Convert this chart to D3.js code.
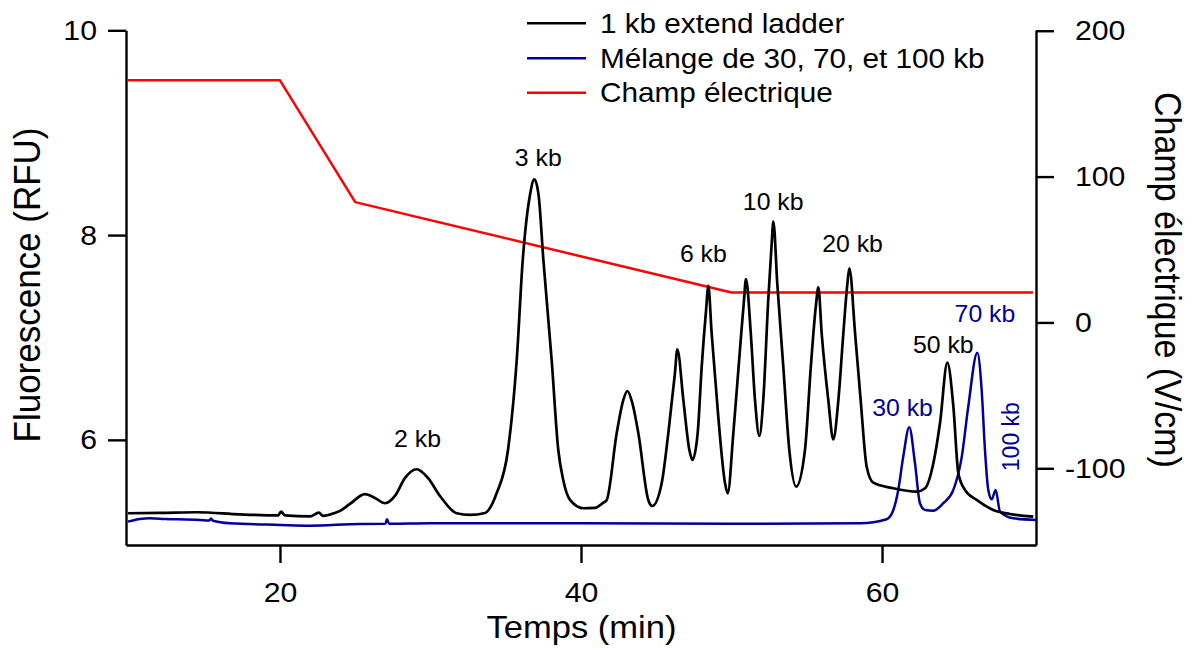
<!DOCTYPE html>
<html>
<head>
<meta charset="utf-8">
<script src="https://cdn.jsdelivr.net/npm/d3@7"></script>
<style>
  html, body { margin: 0; padding: 0; background: #fff; }
  svg { display: block; }
  text { font-family: "Liberation Sans", Arial, sans-serif; }
</style>
</head>
<body>
<svg id="chart" width="1192" height="651"></svg>
<script>
// ---------------- DATA ----------------
const ladderTime = [9.90,12.03,14.49,17.34,19.87,20.07,20.33,21.99,22.59,22.86,23.65,23.99,24.65,25.65,26.31,26.98,27.64,28.31,29.08,29.83,30.63,31.74,32.62,33.62,
  34.40,35.15,35.73,36.13,36.61,36.90,37.18,37.50,38.05,38.49,38.82,39.27,40.15,40.93,41.46,
  41.71,42.37,42.81,43.08,43.39,43.81,44.47,44.74,
  45.36,45.80,46.24,46.40,46.80,47.20,47.40,
  47.75,48.02,48.31,48.46,48.68,49.12,49.57,49.75,
  50.12,50.56,50.83,50.96,51.28,51.56,51.85,
  52.11,52.44,52.67,52.78,53.04,53.44,53.84,54.29,
  54.88,55.27,55.60,55.77,55.99,56.43,56.76,
  57.10,57.43,57.70,57.83,58.21,58.58,58.98,59.42,60.75,62.31,62.86,63.41,63.85,64.34,64.74,65.07,65.51,66.29,67.39,68.50,70.05];
const ladderRFU = [5.283,5.286,5.293,5.272,5.262,5.299,5.262,5.252,5.289,5.257,5.286,5.306,5.374,5.469,5.433,5.381,5.452,5.628,5.713,5.628,5.452,5.283,5.267,5.286,
  5.481,5.901,6.780,7.757,8.392,8.545,8.392,7.757,6.780,5.901,5.608,5.413,5.332,5.335,5.384,
  5.413,6.064,6.389,6.477,6.370,6.064,5.413,5.354,
  5.576,6.064,6.650,6.885,6.389,5.901,5.803,
  6.064,6.715,7.268,7.503,7.041,6.226,5.576,5.478,
  6.064,6.878,7.366,7.571,7.041,6.389,6.038,
  6.389,7.366,7.920,8.131,7.529,6.715,5.901,5.543,
  5.901,6.715,7.301,7.490,7.041,6.389,6.005,
  6.389,7.041,7.529,7.676,7.041,6.389,5.738,5.582,5.527,5.494,5.527,5.771,6.162,6.754,6.324,5.674,5.511,5.413,5.315,5.276,5.250];

const mixTime = [9.90,10.70,11.36,12.36,14.68,15.30,15.42,15.55,16.68,20.00,21.99,25.32,27.00,27.11,27.25,30.00,40.00,50.00,58.54,60.31,60.75,61.08,61.41,61.81,62.19,62.52,62.86,63.41,64.07,64.74,65.30,65.73,66.33,66.62,66.84,67.06,67.29,67.55,67.84,68.72,70.23];
const mixRFU  = [5.201,5.228,5.234,5.228,5.218,5.212,5.232,5.210,5.185,5.169,5.162,5.179,5.180,5.225,5.180,5.185,5.185,5.180,5.185,5.225,5.315,5.511,5.836,6.123,5.771,5.381,5.315,5.308,5.381,5.511,5.836,6.324,6.851,6.487,5.901,5.511,5.420,5.511,5.299,5.234,5.218];

const fieldTime   = [9.90, 20, 25, 50, 70.03];
const fieldValues = [166, 166, 82.5, 20.5, 20.5];

const xTicks      = [20, 40, 60];
const leftTicks   = [6, 8, 10];
const rightTicks  = [-100, 0, 100, 200];

const seriesNames = ["1 kb extend ladder", "Mélange de 30, 70, et 100 kb", "Champ électrique"];

const ladderLabels = ["2 kb", "3 kb", "6 kb", "10 kb", "20 kb", "50 kb"];
const ladderLabelT = [29.14, 37.16, 48.13, 52.77, 58.04, 64.07];
const ladderLabelV = [5.933, 8.675, 7.74, 8.245, 7.838, 6.845];
const mixLabels = ["30 kb", "70 kb"];
const mixLabelT = [61.36, 66.84];
const mixLabelV = [6.233, 7.154];
const mixVertLabel = "100 kb";
const mixVertT = 69.11, mixVertV = 6.031;

// ---------------- DRAW ----------------
const BLACK = "#000000", BLUE = "#000099", RED = "#ff0000";
const SX = 1.08; // horizontal glyph stretch seen in the reference
const svg = d3.select("#chart");

const x  = d3.scaleLinear().domain([9.77, 70.23]).range([126, 1036]);
const yL = d3.scaleLinear().domain([4.973, 10]).range([545, 30.3]);
const yR = d3.scaleLinear().domain([-152.6, 200.3]).range([545, 30.3]);

function stretchText(sel) {
  sel.each(function() {
    const t = d3.select(this);
    const tx = +t.attr("x") || 0, ty = +t.attr("y") || 0;
    t.attr("x", 0).attr("y", 0).attr("transform", `translate(${tx},${ty}) scale(${SX},1)`);
  });
}
const fmt = d => String(d); // plain hyphen-minus as in the reference

// axes
const axB = svg.append("g").attr("transform", "translate(0,545)")
  .call(d3.axisBottom(x).tickValues(xTicks).tickSize(18).tickSizeOuter(0).tickPadding(18.8).tickFormat(fmt));
const axL = svg.append("g").attr("transform", "translate(126,0)")
  .call(d3.axisLeft(yL).tickValues(leftTicks).tickSize(18).tickSizeOuter(0).tickPadding(11).tickFormat(fmt));
const axR = svg.append("g").attr("transform", "translate(1036,0)")
  .call(d3.axisRight(yR).tickValues(rightTicks).tickSize(18).tickSizeOuter(0).tickPadding(21).tickFormat(fmt));

[axB, axL, axR].forEach(a => {
  a.select(".domain").attr("stroke", BLACK).attr("stroke-width", 2.4);
  a.selectAll(".tick line").attr("stroke", BLACK).attr("stroke-width", 2.4);
  a.selectAll(".tick text").attr("fill", BLACK).attr("font-size", 28)
    .attr("font-family", '"Liberation Sans", Arial, sans-serif');
});
axR.selectAll(".tick text").attr("x", d => d < 0 ? 29 : 39);
[axB, axL, axR].forEach(a => stretchText(a.selectAll(".tick text")));

// lines
const lineL = d3.line().x(d => x(d[0])).y(d => yL(d[1])).curve(d3.curveMonotoneX);
const lineR = d3.line().x(d => x(d[0])).y(d => yR(d[1]));

svg.append("path").datum(d3.zip(fieldTime, fieldValues))
  .attr("d", lineR).attr("fill", "none").attr("stroke", RED).attr("stroke-width", 2.5).attr("stroke-linejoin", "round");
svg.append("path").datum(d3.zip(mixTime, mixRFU))
  .attr("d", lineL).attr("fill", "none").attr("stroke", BLUE).attr("stroke-width", 2.5).attr("stroke-linejoin", "round");
svg.append("path").datum(d3.zip(ladderTime, ladderRFU))
  .attr("d", lineL).attr("fill", "none").attr("stroke", BLACK).attr("stroke-width", 2.7).attr("stroke-linejoin", "round");

// peak labels
function label(txt, px, py, color, size) {
  svg.append("text").attr("transform", `translate(${px},${py}) scale(${SX},1)`)
    .attr("text-anchor", "middle").attr("font-size", size).attr("fill", color).text(txt);
}
ladderLabels.forEach((s, i) => label(s, x(ladderLabelT[i]), yL(ladderLabelV[i]), BLACK, 23));
mixLabels.forEach((s, i) => label(s, x(mixLabelT[i]), yL(mixLabelV[i]), BLUE, 23));
svg.append("text")
  .attr("transform", `translate(${x(mixVertT)},${yL(mixVertV)}) scale(${SX},1) rotate(-90)`)
  .attr("text-anchor", "middle").attr("font-size", 23).attr("fill", BLUE).text(mixVertLabel);

// axis titles
svg.append("text").attr("transform", `translate(581.5,638.3) scale(${SX},1)`)
  .attr("text-anchor", "middle").attr("font-size", 32).attr("fill", BLACK).text("Temps (min)");
svg.append("text").attr("transform", `translate(40,285) scale(${SX},1) rotate(-90)`)
  .attr("text-anchor", "middle").attr("font-size", 35).attr("fill", BLACK).text("Fluorescence (RFU)");
svg.append("text").attr("transform", `translate(1155,280) scale(${SX},1) rotate(90)`)
  .attr("text-anchor", "middle").attr("font-size", 34).attr("fill", BLACK).text("Champ électrique (V/cm)");

// legend
const legColors = [BLACK, BLUE, RED];
const legY = [23.3, 58.3, 92.8];
seriesNames.forEach((s, i) => {
  svg.append("line").attr("x1", 527).attr("x2", 586).attr("y1", legY[i]).attr("y2", legY[i])
    .attr("stroke", legColors[i]).attr("stroke-width", 2.6);
  svg.append("text").attr("transform", `translate(600,${legY[i]}) scale(${SX},1)`)
    .attr("dy", "0.35em").attr("font-size", 27.5).attr("fill", BLACK).text(s);
});
</script>
</body>
</html>
